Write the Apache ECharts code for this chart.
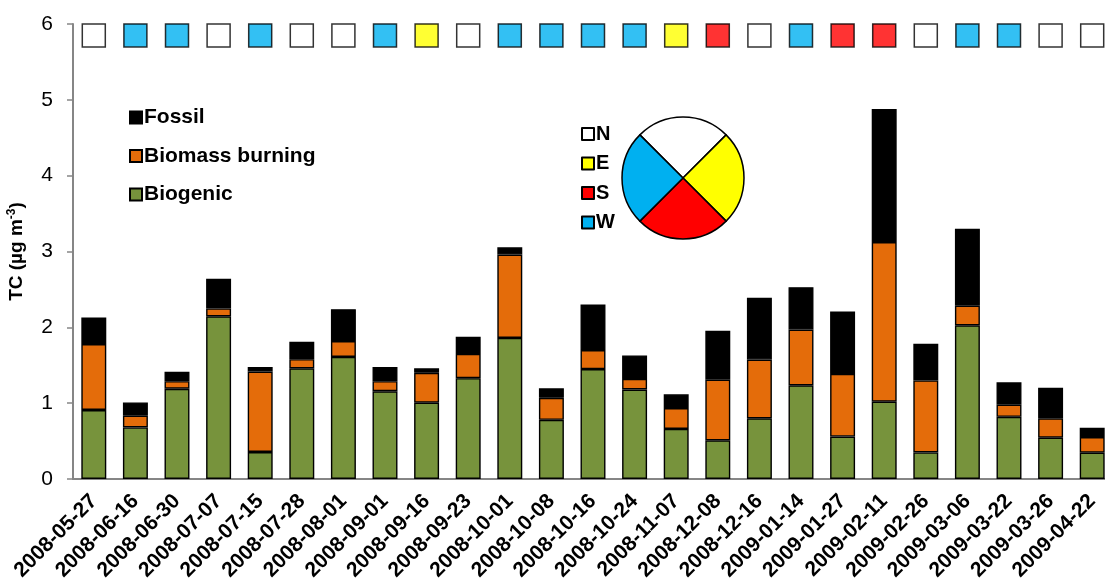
<!DOCTYPE html>
<html>
<head>
<meta charset="utf-8">
<script src="https://cdn.jsdelivr.net/npm/echarts@6/dist/echarts.min.js"></script>
<style>
  html, body { margin: 0; padding: 0; background: #fff; }
  #chart { width: 1105px; height: 587px; }
</style>
</head>
<body>
<div id="chart"></div>
<script>
// sampling dates
var dates = ["2008-05-27", "2008-06-16", "2008-06-30", "2008-07-07", "2008-07-15", "2008-07-28",
  "2008-08-01", "2008-09-01", "2008-09-16", "2008-09-23", "2008-10-01", "2008-10-08", "2008-10-16",
  "2008-10-24", "2008-11-07", "2008-12-08", "2008-12-16", "2009-01-14", "2009-01-27", "2009-02-11",
  "2009-02-26", "2009-03-06", "2009-03-22", "2009-03-26", "2009-04-22"];
// TC source parts (µg m-3)
var biogenic = [0.91, 0.68, 1.19, 2.145, 0.356, 1.46, 1.61, 1.157, 1.006, 1.33, 1.86, 0.78, 1.45,
  1.18, 0.66, 0.51, 0.80, 1.235, 0.56, 1.02, 0.35, 2.027, 0.82, 0.545, 0.347];
var biomass = [0.87, 0.155, 0.10, 0.105, 1.06, 0.12, 0.21, 0.133, 0.394, 0.32, 1.10, 0.29, 0.25,
  0.14, 0.276, 0.80, 0.775, 0.735, 0.825, 2.105, 0.95, 0.258, 0.16, 0.255, 0.207];
var fossil = [0.35, 0.175, 0.125, 0.39, 0.062, 0.23, 0.42, 0.187, 0.06, 0.227, 0.095, 0.126, 0.60,
  0.31, 0.18, 0.646, 0.815, 0.56, 0.825, 1.755, 0.485, 1.015, 0.295, 0.404, 0.123];
// wind sector for each sample
var windDir = ["N", "W", "W", "N", "W", "N", "N", "W", "E", "N", "W", "W", "W", "W", "E", "S",
  "N", "W", "S", "S", "N", "W", "W", "N", "N"];
var sectors = ["N", "E", "S", "W"];
var yTicks = [0, 6, 1];
var windRowLevel = 5.85;

var dirColor = { N: "#ffffff", E: "#ffff00", S: "#ff0000", W: "#00b0f0" };

var windData = [];
for (var i = 0; i < windDir.length; i++) {
  windData.push({ value: [dates[i], windRowLevel], itemStyle: { color: dirColor[windDir[i]] } });
}
var pieData = [];
for (var k = 0; k < sectors.length; k++) {
  pieData.push({ name: sectors[k], value: 1, itemStyle: { color: dirColor[sectors[k]] } });
}

var barBorder = { borderColor: "#000", borderWidth: 1.4 };

var option = {
  animation: false,
  textStyle: { fontFamily: "Liberation Sans, Arial, sans-serif" },
  grid: { left: 73, top: 24, width: 1040, height: 455, outerBoundsMode: "none", containLabel: false },
  legend: [
    {
      data: ["Fossil", "Biomass burning", "Biogenic"],
      orient: "vertical",
      left: 124, top: 102,
      icon: "rect",
      itemWidth: 12, itemHeight: 12, itemGap: 17.5,
      textStyle: { fontSize: 21, fontWeight: "bold", color: "#000", padding: [0, 0, 0, -3] }
    },
    {
      data: sectors,
      orient: "vertical",
      left: 576, top: 119,
      icon: "rect",
      itemWidth: 12, itemHeight: 12, itemGap: 9.5,
      textStyle: { fontSize: 20, fontWeight: "bold", color: "#000", padding: [0, 0, 0, -3] }
    }
  ],
  xAxis: {
    type: "category",
    data: dates,
    axisLine: { lineStyle: { color: "#868686", width: 2 } },
    axisTick: { show: false },
    axisLabel: { rotate: 45, fontSize: 21, fontWeight: "bold", color: "#000", margin: 19, interval: 0 }
  },
  yAxis: {
    type: "value",
    min: yTicks[0], max: yTicks[1], interval: yTicks[2],
    name: "{a|TC (µg m}{b|-3}{a|)}",
    nameLocation: "middle",
    nameGap: 45,
    nameRotate: 90,
    nameTextStyle: {
      rich: {
        a: { fontSize: 19, fontWeight: "bold", color: "#000" },
        b: { fontSize: 12, fontWeight: "bold", color: "#000", verticalAlign: "bottom", padding: [0, 0, 10, 0] }
      }
    },
    splitLine: { show: false },
    axisLine: { show: true, lineStyle: { color: "#868686", width: 2 } },
    axisTick: { show: true, length: 6, lineStyle: { color: "#868686", width: 1.5 } },
    axisLabel: { fontSize: 21, color: "#000", margin: 20 }
  },
  series: [
    {
      name: "Biogenic", type: "bar", stack: "tc", data: biogenic,
      barCategoryGap: "40%",
      itemStyle: Object.assign({ color: "#77933c" }, barBorder)
    },
    {
      name: "Biomass burning", type: "bar", stack: "tc", data: biomass,
      itemStyle: Object.assign({ color: "#e46c0a" }, barBorder)
    },
    {
      name: "Fossil", type: "bar", stack: "tc", data: fossil,
      itemStyle: Object.assign({ color: "#000000" }, barBorder)
    },
    {
      name: "wind", type: "scatter", data: windData,
      symbol: "rect", symbolSize: 23,
      itemStyle: { borderColor: "#000", borderWidth: 1.5 },
      z: 5
    },
    {
      name: "sector", type: "pie",
      center: [683, 178], radius: 61,
      startAngle: 135, clockwise: true,
      label: { show: false }, labelLine: { show: false },
      itemStyle: { borderColor: "#000", borderWidth: 1.5 },
      data: pieData
    }
  ]
};

var myChart = echarts.init(document.getElementById("chart"));
myChart.setOption(option);
</script>
</body>
</html>
